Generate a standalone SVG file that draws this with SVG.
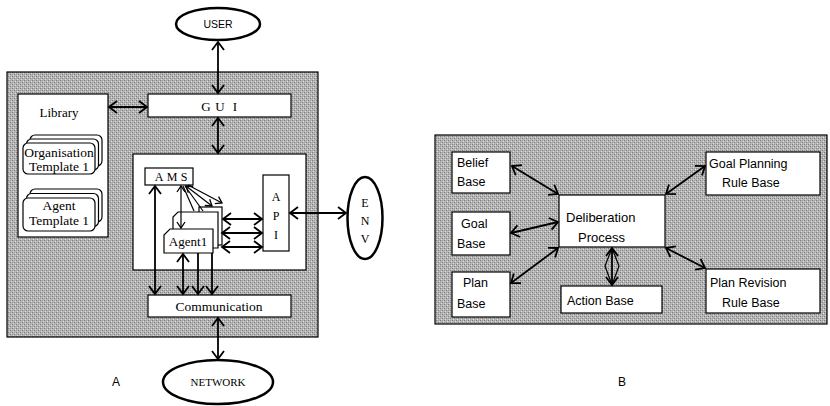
<svg xmlns="http://www.w3.org/2000/svg" width="830" height="406" viewBox="0 0 830 406">
<defs>
<pattern id="dots" width="4" height="4" patternUnits="userSpaceOnUse">
<rect width="4" height="4" fill="#b6b6b6"/>
<rect x="0" y="0" width="1" height="1" fill="#7c7c7c"/>
<rect x="2" y="2" width="1" height="1" fill="#7c7c7c"/>
<rect x="2" y="0" width="1" height="1" fill="#999"/>
<rect x="0" y="2" width="1" height="1" fill="#999"/>
<rect x="1" y="3" width="1" height="1" fill="#dcdcdc"/>
<rect x="3" y="1" width="1" height="1" fill="#dcdcdc"/>
</pattern>
<marker id="ah" markerUnits="userSpaceOnUse" markerWidth="12" markerHeight="14" refX="8" refY="6" orient="auto-start-reverse" overflow="visible">
<path d="M0,0 L8,6 L0,12" fill="none" stroke="#000" stroke-width="1.8"/>
</marker>
<marker id="sh" markerUnits="userSpaceOnUse" markerWidth="10" markerHeight="10" refX="6" refY="4" orient="auto-start-reverse" overflow="visible">
<path d="M0,0 L6,4 L0,8" fill="none" stroke="#000" stroke-width="1.3"/>
</marker>
</defs>
<style>
.panel{fill:url(#dots);stroke:#000;stroke-width:1.2}
.box{fill:#fff;stroke:#000;stroke-width:1.2}
.ell{fill:#fff;stroke:#000;stroke-width:2.5}
.serif{font-family:"Liberation Serif","Times New Roman",serif;fill:#000}
.sans{font-family:"Liberation Sans",Arial,sans-serif;fill:#000}
.c{text-anchor:middle}
.con{stroke:#000;stroke-width:1.8;fill:none;marker-start:url(#ah);marker-end:url(#ah)}
.one{stroke:#000;stroke-width:1.8;fill:none;marker-end:url(#ah)}
.thin{stroke:#000;stroke-width:1.2;fill:none}
</style>

<!-- Panels -->
<rect id="panelA" class="panel" x="7" y="72" width="311" height="265"/>
<rect id="panelB" class="panel" x="435" y="135" width="392" height="189"/>

<!-- Panel A nodes -->
<g id="user">
<ellipse class="ell" cx="218" cy="24" rx="42" ry="16"/>
<text class="sans c" x="218" y="28" font-size="10.5">USER</text>
</g>
<g id="library">
<rect class="box" x="18" y="94" width="90" height="143"/>
<text class="serif c" x="59" y="117" font-size="13">Library</text>
</g>
<g id="orgTemplate">
<rect class="box" x="30" y="135" width="72" height="31" rx="5"/>
<rect class="box" x="26.5" y="139" width="72" height="31" rx="5"/>
<rect class="box" x="23" y="143" width="72" height="31" rx="5"/>
<text class="serif c" x="59" y="157" font-size="13.5">Organisation</text>
<text class="serif c" x="59" y="171" font-size="13.5">Template 1</text>
</g>
<g id="agentTemplate">
<rect class="box" x="30" y="189" width="72" height="33" rx="5"/>
<rect class="box" x="26.5" y="193.5" width="72" height="33" rx="5"/>
<rect class="box" x="23" y="198" width="72" height="33" rx="5"/>
<text class="serif c" x="59" y="210" font-size="13.5">Agent</text>
<text class="serif c" x="59" y="225" font-size="13.5">Template 1</text>
</g>
<g id="gui">
<rect class="box" x="148" y="94" width="143" height="23"/>
<text class="serif c" y="111" font-size="13"><tspan x="206">G</tspan><tspan x="220">U</tspan><tspan x="235">I</tspan></text>
</g>
<g id="platform">
<rect class="box" x="133" y="154" width="173" height="116"/>
</g>
<g id="ams">
<rect class="box" x="145" y="168" width="48" height="17"/>
<text class="serif c" y="181" font-size="12"><tspan x="159">A</tspan><tspan x="172">M</tspan><tspan x="184">S</tspan></text>
</g>
<g id="agent">
<rect class="box" x="199" y="207" width="23" height="38"/>
<path class="box" d="M178,212 L218,212 L218,248 L173,248 L173,217 Z"/>
<path class="box" d="M170,229 L213,229 L213,253 L164,253 L164,235 Z"/>
<text class="serif c" x="188" y="246" font-size="13">Agent1</text>
</g>
<g id="api">
<rect class="box" x="263" y="175" width="26" height="76"/>
<text class="serif c" x="276" y="201" font-size="12">A</text>
<text class="serif c" x="276" y="220" font-size="12">P</text>
<text class="serif c" x="276" y="239" font-size="12">I</text>
</g>
<g id="env">
<ellipse class="ell" cx="365" cy="218" rx="17.5" ry="41"/>
<text class="serif c" x="365" y="207" font-size="12">E</text>
<text class="serif c" x="365" y="225" font-size="12">N</text>
<text class="serif c" x="365" y="243" font-size="12">V</text>
</g>
<g id="communication">
<rect class="box" x="148" y="295" width="143" height="22"/>
<text class="serif c" x="219" y="311" font-size="13.5">Communication</text>
</g>
<g id="network">
<ellipse class="ell" cx="218" cy="382" rx="55" ry="22"/>
<text class="serif c" x="218" y="386" font-size="11">NETWORK</text>
</g>

<!-- Panel B nodes -->
<g id="beliefBase">
<rect class="box" x="452" y="152" width="58" height="41"/>
<text class="sans" x="457" y="167" font-size="12.5">Belief</text>
<text class="sans" x="457" y="186" font-size="12.5">Base</text>
</g>
<g id="goalBase">
<rect class="box" x="452" y="212" width="58" height="43"/>
<text class="sans" x="461" y="228" font-size="12.5">Goal</text>
<text class="sans" x="457" y="248" font-size="12.5">Base</text>
</g>
<g id="planBase">
<rect class="box" x="452" y="272" width="58" height="45"/>
<text class="sans" x="463" y="287" font-size="12.5">Plan</text>
<text class="sans" x="457" y="308" font-size="12.5">Base</text>
</g>
<g id="deliberation">
<rect class="box" x="559" y="195" width="106" height="52"/>
<text class="sans" x="566" y="222" font-size="13">Deliberation</text>
<text class="sans" x="578" y="242" font-size="13">Process</text>
</g>
<g id="actionBase">
<rect class="box" x="561" y="286" width="101" height="27"/>
<text class="sans" x="567" y="305" font-size="12.5">Action Base</text>
</g>
<g id="goalPlanning">
<rect class="box" x="706" y="152" width="114" height="43"/>
<text class="sans" x="709" y="168" font-size="12.5">Goal Planning</text>
<text class="sans" x="722" y="187" font-size="12.5">Rule Base</text>
</g>
<g id="planRevision">
<rect class="box" x="706" y="269" width="114" height="44"/>
<text class="sans" x="710" y="287" font-size="12.5">Plan Revision</text>
<text class="sans" x="722" y="307" font-size="12.5">Rule Base</text>
</g>

<!-- Labels -->
<text class="sans c" x="116" y="386" font-size="12">A</text>
<text class="sans c" x="622" y="386" font-size="12">B</text>

<!-- Connectors -->
<g id="connectors">
<line class="con" x1="218" y1="42" x2="218" y2="93"/>
<line class="con" x1="109" y1="107" x2="147" y2="107"/>
<line class="con" x1="218" y1="118" x2="218" y2="153"/>
<line class="con" x1="290" y1="213" x2="346" y2="213"/>
<line class="con" x1="218" y1="318" x2="218" y2="359"/>
<line class="con" x1="155" y1="186" x2="155" y2="294"/>
<line class="con" x1="183" y1="254" x2="183" y2="294"/>
<line class="one" x1="198" y1="253" x2="198" y2="294"/>
<line class="one" x1="212" y1="253" x2="212" y2="294"/>
<line class="con" x1="223" y1="219" x2="262" y2="219"/>
<line class="con" x1="222" y1="233" x2="262" y2="233"/>
<line class="con" x1="222" y1="247" x2="262" y2="247"/>
<line class="thin" x1="181" y1="186" x2="181" y2="228" style="marker-start:url(#sh);marker-end:url(#sh)"/>
<line class="thin" x1="183" y1="186" x2="194" y2="211"/>
<line class="thin" x1="185" y1="186" x2="203" y2="211"/>
<line class="thin" x1="186" y1="186" x2="212" y2="206" style="marker-start:url(#sh);marker-end:url(#sh)"/>
<line class="thin" x1="188" y1="185" x2="222" y2="203" style="marker-end:url(#sh)"/>
<line class="con" x1="512" y1="166" x2="558" y2="194"/>
<line class="con" x1="511" y1="233" x2="558" y2="222"/>
<line class="con" x1="511" y1="283" x2="558" y2="248"/>
<line class="con" x1="666" y1="194" x2="705" y2="166"/>
<line class="con" x1="666" y1="248" x2="705" y2="268"/>
<line class="con" x1="612" y1="248" x2="612" y2="285"/>
<path class="thin" d="M612,248 L605,266 L612,285 M612,248 L619,266 L612,285"/>
</g>
</svg>
